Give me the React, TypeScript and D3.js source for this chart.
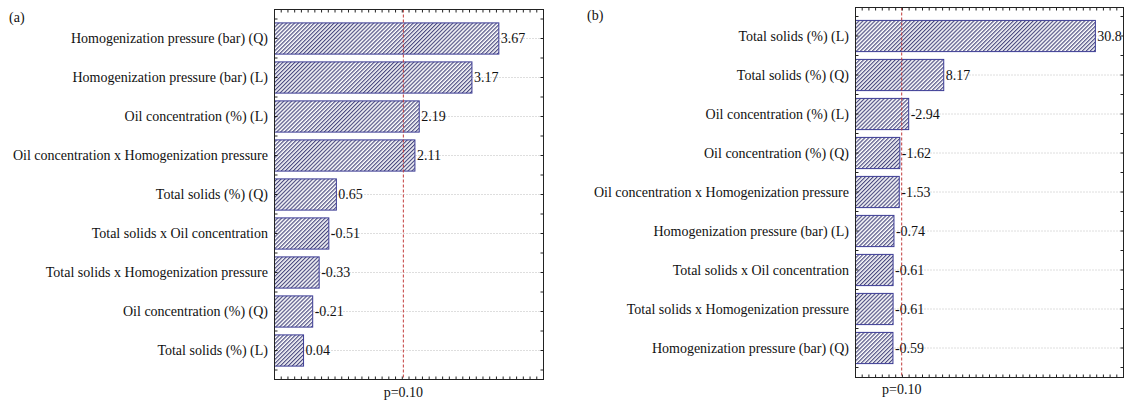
import React from "react";
import * as d3 from "d3";

const labelsA = [
  "Homogenization pressure (bar) (Q)",
  "Homogenization pressure (bar) (L)",
  "Oil concentration (%) (L)",
  "Oil concentration x Homogenization pressure",
  "Total solids (%) (Q)",
  "Total solids x Oil concentration",
  "Total solids x Homogenization pressure",
  "Oil concentration (%) (Q)",
  "Total solids (%) (L)",
];
const effectsA = [3.67, 3.17, 2.19, 2.11, 0.65, -0.51, -0.33, -0.21, 0.04];

const labelsB = [
  "Total solids (%) (L)",
  "Total solids (%) (Q)",
  "Oil concentration (%) (L)",
  "Oil concentration (%) (Q)",
  "Oil concentration x Homogenization pressure",
  "Homogenization pressure (bar) (L)",
  "Total solids x Oil concentration",
  "Total solids x Homogenization pressure",
  "Homogenization pressure (bar) (Q)",
];
const effectsB = [30.8, 8.17, -2.94, -1.62, -1.53, -0.74, -0.61, -0.61, -0.59];

const domainA: [number, number] = [-0.5, 4.5];
const domainB: [number, number] = [-5, 35];
const pCritical = 1.895;
const pLabel = "p=0.10";

const FONT = "Liberation Serif, Times New Roman, serif";
const BAR_STROKE = "#3b3b95";
const HATCH = "#4b4b80";

type PanelProps = {
  id: string;
  tag: string;
  tagX: number;
  tagY: number;
  labels: string[];
  effects: number[];
  domain: [number, number];
  left: number;
  right: number;
  top: number;
  bottom: number;
  bandRange: [number, number];
  labelX: number;
  pY: number;
};

const textStyle = { fontFamily: FONT, fontSize: "14px" } as const;

function Panel(p: PanelProps) {
  const x = d3.scaleLinear().domain(p.domain).range([p.left, p.right]);
  const y = d3
    .scaleBand<string>()
    .domain(p.labels)
    .range(p.bandRange)
    .paddingInner(0.2)
    .paddingOuter(0.1);
  const step = y.step();
  const xTicks = d3.range(0, 41).map((i) => p.domain[0] + ((p.domain[1] - p.domain[0]) * i) / 40);
  const yStart = (y(p.labels[0]) as number) - step * 0.1;
  const yTicks: number[] = [];
  for (let k = 0; k <= 18; k++) {
    const v = yStart + (k * step) / 2;
    if (v > p.top + 1 && v < p.bottom - 1) yTicks.push(v);
  }
  const px = x(pCritical);
  return (
    <g>
      <text x={p.tagX} y={p.tagY} style={textStyle} fill="#111">
        {p.tag}
      </text>
      {p.labels.map((l) => (
        <line
          key={"g" + l}
          x1={p.left}
          x2={p.right}
          y1={(y(l) as number) + y.bandwidth() / 2}
          y2={(y(l) as number) + y.bandwidth() / 2}
          stroke="#bdbdbd"
          strokeWidth={1}
          strokeDasharray="1,2"
        />
      ))}
      {p.labels.map((l, i) => {
        const v = Math.abs(p.effects[i]);
        const x0 = x(p.domain[0]);
        const x1 = x(v);
        const yy = y(l) as number;
        return (
          <g key={"b" + l}>
            <rect
              x={x0}
              y={yy}
              width={x1 - x0}
              height={y.bandwidth()}
              fill={`url(#hatch-${p.id})`}
              stroke={BAR_STROKE}
              strokeWidth={1}
            />
            <text
              x={x1 + 2}
              y={yy + y.bandwidth() / 2}
              dy="0.35em"
              style={textStyle}
              fill="#111"
            >
              {String(p.effects[i])}
            </text>
            <text
              x={p.labelX}
              y={yy + y.bandwidth() / 2}
              dy="0.35em"
              textAnchor="end"
              style={textStyle}
              fill="#111"
            >
              {l}
            </text>
          </g>
        );
      })}
      <line
        x1={px}
        x2={px}
        y1={p.top}
        y2={p.bottom}
        stroke="#c23b3b"
        strokeWidth={1}
        strokeDasharray="3,2"
      />
      <text x={px} y={p.pY} textAnchor="middle" style={textStyle} fill="#111">
        {pLabel}
      </text>
      {xTicks.map((t, i) => (
        <g key={"xt" + i}>
          <line x1={x(t)} x2={x(t)} y1={p.top} y2={p.top + 3} stroke="#222" strokeWidth={1} />
          <line x1={x(t)} x2={x(t)} y1={p.bottom} y2={p.bottom - 3} stroke="#222" strokeWidth={1} />
        </g>
      ))}
      {yTicks.map((t, i) => (
        <g key={"yt" + i}>
          <line x1={p.left} x2={p.left + 3} y1={t} y2={t} stroke="#222" strokeWidth={1} />
          <line x1={p.right} x2={p.right - 3} y1={t} y2={t} stroke="#222" strokeWidth={1} />
        </g>
      ))}
      <rect
        x={p.left}
        y={p.top}
        width={p.right - p.left}
        height={p.bottom - p.top}
        fill="none"
        stroke="#222"
        strokeWidth={1}
      />
    </g>
  );
}

export default function App() {
  return (
    <svg
      width={1126}
      height={401}
      style={{ position: "absolute", left: 0, top: 0, background: "#fff" }}
    >
      <defs>
        {["a", "b"].map((id) => (
          <pattern
            key={id}
            id={`hatch-${id}`}
            width={2.8}
            height={2.8}
            patternUnits="userSpaceOnUse"
            patternTransform="rotate(45)"
          >
            <rect width={2.8} height={2.8} fill="#fff" />
            <line x1={0.6} y1={0} x2={0.6} y2={2.8} stroke={HATCH} strokeWidth={1.2} />
          </pattern>
        ))}
      </defs>
      <rect width={1126} height={401} fill="#fff" />
      <Panel
        id="a"
        tag="(a)"
        tagX={9}
        tagY={22}
        labels={labelsA}
        effects={effectsA}
        domain={domainA}
        left={274.5}
        right={543.5}
        top={9.5}
        bottom={379.5}
        bandRange={[19, 370]}
        labelX={268}
        pY={397}
      />
      <Panel
        id="b"
        tag="(b)"
        tagX={587}
        tagY={20}
        labels={labelsB}
        effects={effectsB}
        domain={domainB}
        left={855.5}
        right={1123.5}
        top={7.5}
        bottom={377.5}
        bandRange={[16.5, 367.5]}
        labelX={849}
        pY={394}
      />
    </svg>
  );
}
